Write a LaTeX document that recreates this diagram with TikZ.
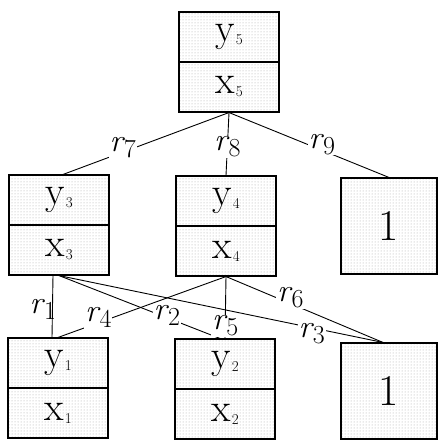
\documentclass[tikz,border=0pt]{standalone}
\usepackage{fontspec}
\usepackage{tikz}
\usetikzlibrary{positioning,patterns}

% stacked y/x cells and rate labels
\tikzset{
    cell/.style={draw, line width=1.1pt, pattern=dots, pattern color=gray!70,
        minimum width=100pt, minimum height=50pt, inner sep=0pt,
        font=\fontsize{40}{40}\selectfont},
    bigcell/.style={cell, minimum width=96pt, minimum height=96pt,
        font=\fontsize{44}{44}\selectfont},
    rate/.style={fill=white, inner sep=1pt, font=\fontsize{32}{32}\selectfont},
    link/.style={line width=0.9pt}
}
\newcommand{\cellvar}[2]{#1\kern1pt\raisebox{-3pt}{\fontsize{15}{15}\selectfont #2}}
\newcommand{\rate}[1]{\textit{r}\kern-1pt\raisebox{-6pt}{\fontsize{26}{26}\selectfont #1}}

\begin{document}
\begin{tikzpicture}[x=1pt,y=-1pt]
    \useasboundingbox (0,0) rectangle (438,440);

    % top
    \node[cell] (y5) at (229,37) {\cellvar{y}{5}};
    \node[cell, below=-1.1pt of y5] (x5) {\cellvar{x}{5}};

    % middle row
    \node[cell] (y3) at (59,200) {\cellvar{y}{3}};
    \node[cell, below=-1.1pt of y3] (x3) {\cellvar{x}{3}};
    \node[cell] (y4) at (226,201) {\cellvar{y}{4}};
    \node[cell, below=-1.1pt of y4] (x4) {\cellvar{x}{4}};
    \node[bigcell] (onem) at (389,226) {1};

    % bottom row
    \node[cell] (y1) at (58,363) {\cellvar{y}{1}};
    \node[cell, below=-1.1pt of y1] (x1) {\cellvar{x}{1}};
    \node[cell] (y2) at (225,364) {\cellvar{y}{2}};
    \node[cell, below=-1.1pt of y2] (x2) {\cellvar{x}{2}};
    \node[bigcell] (oneb) at (389,391) {1};

    % upper links
    \draw[link] (x5.south) -- node[rate, pos=0.64, yshift=5pt] {\rate{7}} ([xshift=4pt]y3.north);
    \draw[link] (x5.south) -- node[rate, pos=0.55] {\rate{8}} (y4.north);
    \draw[link] (x5.south) -- node[rate, pos=0.58, yshift=6pt] {\rate{9}} (onem.north);

    % lower links
    \draw[link] ([xshift=-6pt]x3.south) -- node[rate, pos=0.55, anchor=east, xshift=5pt, fill=none] {\rate{1}} ([xshift=-6pt]y1.north);
    \draw[link] (x3.south) -- node[rate, pos=0.67, yshift=2pt] {\rate{2}} ([xshift=-5pt]y2.north);
    \draw[link] (x3.south) -- node[rate, pos=0.78, yshift=-6pt] {\rate{3}} ([xshift=-6pt]oneb.north);
    \draw[link] (x4.south) -- node[rate, pos=0.76, yshift=5pt] {\rate{4}} (y1.north);
    \draw[link] (x4.south) -- node[rate, pos=0.8] {\rate{5}} (y2.north);
    \draw[link] (x4.south) -- node[rate, pos=0.41, yshift=6pt] {\rate{6}} ([xshift=-6pt]oneb.north);
\end{tikzpicture}
\end{document}
